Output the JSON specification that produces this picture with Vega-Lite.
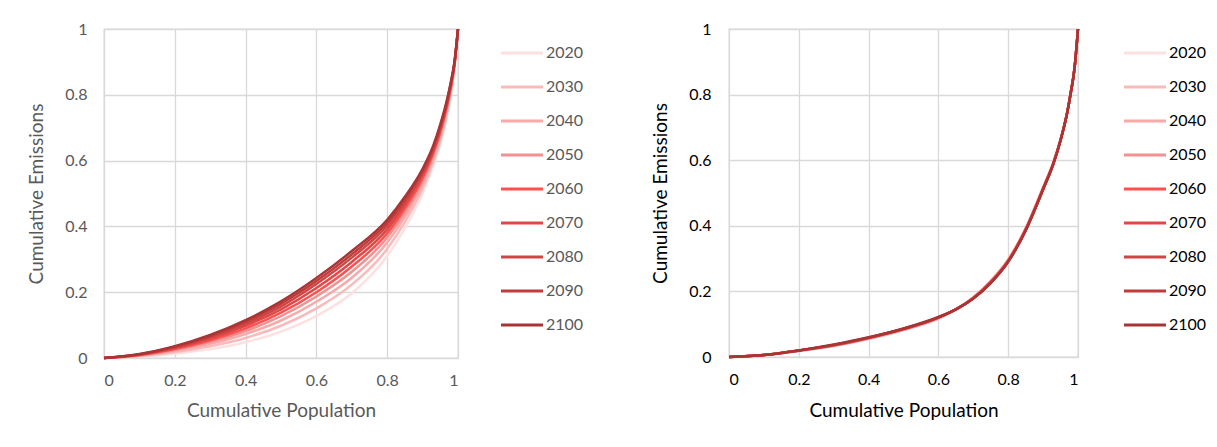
{
  "$schema": "https://vega.github.io/schema/vega-lite/v6.json",
  "background": "white",
  "padding": {"left": 27, "top": 20, "right": 0, "bottom": 0},
  "bounds": "flush",
  "spacing": 271,
  "resolve": {"scale": {"color": "independent"}, "legend": {"color": "independent"}},
  "config": {
    "font": "Lato",
    "view": {"stroke": "#d9d9d9", "strokeWidth": 1.3},
    "axis": {
      "grid": true,
      "gridColor": "#d9d9d9",
      "gridWidth": 1.3,
      "domain": false,
      "ticks": false,
      "labelFontSize": 16,
      "titleFontSize": 19,
      "titleFontWeight": "normal"
    },
    "legend": {
      "orient": "none",
      "title": null,
      "symbolType": "M-2,0H2",
      "symbolSize": 441,
      "symbolStrokeWidth": 3,
      "labelFontSize": 16,
      "rowPadding": 14,
      "labelOffset": 12,
      "padding": 0
    }
  },
  "datasets": {
    "left": [
      {"year": "2020", "p": 0, "e": 0}, {"year": "2020", "p": 0.1, "e": 0.004}, {"year": "2020", "p": 0.2, "e": 0.013}, {"year": "2020", "p": 0.3, "e": 0.027}, {"year": "2020", "p": 0.4, "e": 0.048}, {"year": "2020", "p": 0.5, "e": 0.08}, {"year": "2020", "p": 0.6, "e": 0.128}, {"year": "2020", "p": 0.7, "e": 0.197}, {"year": "2020", "p": 0.8, "e": 0.31}, {"year": "2020", "p": 0.85, "e": 0.395}, {"year": "2020", "p": 0.9, "e": 0.5}, {"year": "2020", "p": 0.93, "e": 0.585}, {"year": "2020", "p": 0.95, "e": 0.65}, {"year": "2020", "p": 0.97, "e": 0.74}, {"year": "2020", "p": 0.98, "e": 0.8}, {"year": "2020", "p": 0.99, "e": 0.88}, {"year": "2020", "p": 1, "e": 1},
      {"year": "2030", "p": 0, "e": 0}, {"year": "2030", "p": 0.1, "e": 0.006}, {"year": "2030", "p": 0.2, "e": 0.018}, {"year": "2030", "p": 0.3, "e": 0.036}, {"year": "2030", "p": 0.4, "e": 0.061}, {"year": "2030", "p": 0.5, "e": 0.098}, {"year": "2030", "p": 0.6, "e": 0.151}, {"year": "2030", "p": 0.7, "e": 0.223}, {"year": "2030", "p": 0.8, "e": 0.332}, {"year": "2030", "p": 0.85, "e": 0.414}, {"year": "2030", "p": 0.9, "e": 0.515}, {"year": "2030", "p": 0.93, "e": 0.597}, {"year": "2030", "p": 0.95, "e": 0.662}, {"year": "2030", "p": 0.97, "e": 0.75}, {"year": "2030", "p": 0.98, "e": 0.808}, {"year": "2030", "p": 0.99, "e": 0.884}, {"year": "2030", "p": 1, "e": 1},
      {"year": "2040", "p": 0, "e": 0}, {"year": "2040", "p": 0.1, "e": 0.007}, {"year": "2040", "p": 0.2, "e": 0.022}, {"year": "2040", "p": 0.3, "e": 0.043}, {"year": "2040", "p": 0.4, "e": 0.073}, {"year": "2040", "p": 0.5, "e": 0.114}, {"year": "2040", "p": 0.6, "e": 0.171}, {"year": "2040", "p": 0.7, "e": 0.244}, {"year": "2040", "p": 0.8, "e": 0.351}, {"year": "2040", "p": 0.85, "e": 0.43}, {"year": "2040", "p": 0.9, "e": 0.528}, {"year": "2040", "p": 0.93, "e": 0.607}, {"year": "2040", "p": 0.95, "e": 0.672}, {"year": "2040", "p": 0.97, "e": 0.759}, {"year": "2040", "p": 0.98, "e": 0.815}, {"year": "2040", "p": 0.99, "e": 0.887}, {"year": "2040", "p": 1, "e": 1},
      {"year": "2050", "p": 0, "e": 0}, {"year": "2050", "p": 0.1, "e": 0.008}, {"year": "2050", "p": 0.2, "e": 0.025}, {"year": "2050", "p": 0.3, "e": 0.049}, {"year": "2050", "p": 0.4, "e": 0.082}, {"year": "2050", "p": 0.5, "e": 0.127}, {"year": "2050", "p": 0.6, "e": 0.187}, {"year": "2050", "p": 0.7, "e": 0.262}, {"year": "2050", "p": 0.8, "e": 0.366}, {"year": "2050", "p": 0.85, "e": 0.443}, {"year": "2050", "p": 0.9, "e": 0.538}, {"year": "2050", "p": 0.93, "e": 0.616}, {"year": "2050", "p": 0.95, "e": 0.681}, {"year": "2050", "p": 0.97, "e": 0.766}, {"year": "2050", "p": 0.98, "e": 0.82}, {"year": "2050", "p": 0.99, "e": 0.89}, {"year": "2050", "p": 1, "e": 1},
      {"year": "2060", "p": 0, "e": 0}, {"year": "2060", "p": 0.1, "e": 0.009}, {"year": "2060", "p": 0.2, "e": 0.027}, {"year": "2060", "p": 0.3, "e": 0.054}, {"year": "2060", "p": 0.4, "e": 0.09}, {"year": "2060", "p": 0.5, "e": 0.138}, {"year": "2060", "p": 0.6, "e": 0.2}, {"year": "2060", "p": 0.7, "e": 0.278}, {"year": "2060", "p": 0.8, "e": 0.379}, {"year": "2060", "p": 0.85, "e": 0.455}, {"year": "2060", "p": 0.9, "e": 0.547}, {"year": "2060", "p": 0.93, "e": 0.623}, {"year": "2060", "p": 0.95, "e": 0.688}, {"year": "2060", "p": 0.97, "e": 0.772}, {"year": "2060", "p": 0.98, "e": 0.825}, {"year": "2060", "p": 0.99, "e": 0.893}, {"year": "2060", "p": 1, "e": 1},
      {"year": "2070", "p": 0, "e": 0}, {"year": "2070", "p": 0.1, "e": 0.01}, {"year": "2070", "p": 0.2, "e": 0.03}, {"year": "2070", "p": 0.3, "e": 0.059}, {"year": "2070", "p": 0.4, "e": 0.098}, {"year": "2070", "p": 0.5, "e": 0.148}, {"year": "2070", "p": 0.6, "e": 0.213}, {"year": "2070", "p": 0.7, "e": 0.292}, {"year": "2070", "p": 0.8, "e": 0.391}, {"year": "2070", "p": 0.85, "e": 0.465}, {"year": "2070", "p": 0.9, "e": 0.556}, {"year": "2070", "p": 0.93, "e": 0.629}, {"year": "2070", "p": 0.95, "e": 0.694}, {"year": "2070", "p": 0.97, "e": 0.777}, {"year": "2070", "p": 0.98, "e": 0.83}, {"year": "2070", "p": 0.99, "e": 0.895}, {"year": "2070", "p": 1, "e": 1},
      {"year": "2080", "p": 0, "e": 0}, {"year": "2080", "p": 0.1, "e": 0.011}, {"year": "2080", "p": 0.2, "e": 0.032}, {"year": "2080", "p": 0.3, "e": 0.063}, {"year": "2080", "p": 0.4, "e": 0.104}, {"year": "2080", "p": 0.5, "e": 0.157}, {"year": "2080", "p": 0.6, "e": 0.225}, {"year": "2080", "p": 0.7, "e": 0.305}, {"year": "2080", "p": 0.8, "e": 0.402}, {"year": "2080", "p": 0.85, "e": 0.474}, {"year": "2080", "p": 0.9, "e": 0.563}, {"year": "2080", "p": 0.93, "e": 0.635}, {"year": "2080", "p": 0.95, "e": 0.7}, {"year": "2080", "p": 0.97, "e": 0.782}, {"year": "2080", "p": 0.98, "e": 0.834}, {"year": "2080", "p": 0.99, "e": 0.897}, {"year": "2080", "p": 1, "e": 1},
      {"year": "2090", "p": 0, "e": 0}, {"year": "2090", "p": 0.1, "e": 0.011}, {"year": "2090", "p": 0.2, "e": 0.034}, {"year": "2090", "p": 0.3, "e": 0.067}, {"year": "2090", "p": 0.4, "e": 0.11}, {"year": "2090", "p": 0.5, "e": 0.165}, {"year": "2090", "p": 0.6, "e": 0.234}, {"year": "2090", "p": 0.7, "e": 0.315}, {"year": "2090", "p": 0.8, "e": 0.411}, {"year": "2090", "p": 0.85, "e": 0.482}, {"year": "2090", "p": 0.9, "e": 0.569}, {"year": "2090", "p": 0.93, "e": 0.64}, {"year": "2090", "p": 0.95, "e": 0.705}, {"year": "2090", "p": 0.97, "e": 0.786}, {"year": "2090", "p": 0.98, "e": 0.837}, {"year": "2090", "p": 0.99, "e": 0.898}, {"year": "2090", "p": 1, "e": 1},
      {"year": "2100", "p": 0, "e": 0}, {"year": "2100", "p": 0.1, "e": 0.012}, {"year": "2100", "p": 0.2, "e": 0.036}, {"year": "2100", "p": 0.3, "e": 0.07}, {"year": "2100", "p": 0.4, "e": 0.115}, {"year": "2100", "p": 0.5, "e": 0.172}, {"year": "2100", "p": 0.6, "e": 0.243}, {"year": "2100", "p": 0.7, "e": 0.325}, {"year": "2100", "p": 0.8, "e": 0.42}, {"year": "2100", "p": 0.85, "e": 0.49}, {"year": "2100", "p": 0.9, "e": 0.575}, {"year": "2100", "p": 0.93, "e": 0.645}, {"year": "2100", "p": 0.95, "e": 0.71}, {"year": "2100", "p": 0.97, "e": 0.79}, {"year": "2100", "p": 0.98, "e": 0.84}, {"year": "2100", "p": 0.99, "e": 0.9}, {"year": "2100", "p": 1, "e": 1}
    ],
    "right": [
      {"year": "2020", "p": 0, "e": 0}, {"year": "2020", "p": 0.1, "e": 0.006}, {"year": "2020", "p": 0.2, "e": 0.018}, {"year": "2020", "p": 0.3, "e": 0.033}, {"year": "2020", "p": 0.4, "e": 0.055}, {"year": "2020", "p": 0.5, "e": 0.082}, {"year": "2020", "p": 0.6, "e": 0.117}, {"year": "2020", "p": 0.65, "e": 0.145}, {"year": "2020", "p": 0.7, "e": 0.182}, {"year": "2020", "p": 0.75, "e": 0.233}, {"year": "2020", "p": 0.8, "e": 0.298}, {"year": "2020", "p": 0.85, "e": 0.393}, {"year": "2020", "p": 0.9, "e": 0.518}, {"year": "2020", "p": 0.93, "e": 0.596}, {"year": "2020", "p": 0.95, "e": 0.664}, {"year": "2020", "p": 0.97, "e": 0.75}, {"year": "2020", "p": 0.98, "e": 0.81}, {"year": "2020", "p": 0.99, "e": 0.88}, {"year": "2020", "p": 1, "e": 1},
      {"year": "2030", "p": 0, "e": 0}, {"year": "2030", "p": 0.1, "e": 0.006}, {"year": "2030", "p": 0.2, "e": 0.018}, {"year": "2030", "p": 0.3, "e": 0.034}, {"year": "2030", "p": 0.4, "e": 0.056}, {"year": "2030", "p": 0.5, "e": 0.083}, {"year": "2030", "p": 0.6, "e": 0.118}, {"year": "2030", "p": 0.65, "e": 0.145}, {"year": "2030", "p": 0.7, "e": 0.182}, {"year": "2030", "p": 0.75, "e": 0.232}, {"year": "2030", "p": 0.8, "e": 0.297}, {"year": "2030", "p": 0.85, "e": 0.392}, {"year": "2030", "p": 0.9, "e": 0.517}, {"year": "2030", "p": 0.93, "e": 0.595}, {"year": "2030", "p": 0.95, "e": 0.663}, {"year": "2030", "p": 0.97, "e": 0.75}, {"year": "2030", "p": 0.98, "e": 0.81}, {"year": "2030", "p": 0.99, "e": 0.88}, {"year": "2030", "p": 1, "e": 1},
      {"year": "2040", "p": 0, "e": 0}, {"year": "2040", "p": 0.1, "e": 0.006}, {"year": "2040", "p": 0.2, "e": 0.019}, {"year": "2040", "p": 0.3, "e": 0.034}, {"year": "2040", "p": 0.4, "e": 0.056}, {"year": "2040", "p": 0.5, "e": 0.083}, {"year": "2040", "p": 0.6, "e": 0.118}, {"year": "2040", "p": 0.65, "e": 0.145}, {"year": "2040", "p": 0.7, "e": 0.181}, {"year": "2040", "p": 0.75, "e": 0.231}, {"year": "2040", "p": 0.8, "e": 0.296}, {"year": "2040", "p": 0.85, "e": 0.391}, {"year": "2040", "p": 0.9, "e": 0.516}, {"year": "2040", "p": 0.93, "e": 0.594}, {"year": "2040", "p": 0.95, "e": 0.663}, {"year": "2040", "p": 0.97, "e": 0.75}, {"year": "2040", "p": 0.98, "e": 0.81}, {"year": "2040", "p": 0.99, "e": 0.88}, {"year": "2040", "p": 1, "e": 1},
      {"year": "2050", "p": 0, "e": 0}, {"year": "2050", "p": 0.1, "e": 0.006}, {"year": "2050", "p": 0.2, "e": 0.019}, {"year": "2050", "p": 0.3, "e": 0.035}, {"year": "2050", "p": 0.4, "e": 0.057}, {"year": "2050", "p": 0.5, "e": 0.084}, {"year": "2050", "p": 0.6, "e": 0.119}, {"year": "2050", "p": 0.65, "e": 0.145}, {"year": "2050", "p": 0.7, "e": 0.18}, {"year": "2050", "p": 0.75, "e": 0.23}, {"year": "2050", "p": 0.8, "e": 0.295}, {"year": "2050", "p": 0.85, "e": 0.39}, {"year": "2050", "p": 0.9, "e": 0.515}, {"year": "2050", "p": 0.93, "e": 0.594}, {"year": "2050", "p": 0.95, "e": 0.662}, {"year": "2050", "p": 0.97, "e": 0.75}, {"year": "2050", "p": 0.98, "e": 0.81}, {"year": "2050", "p": 0.99, "e": 0.88}, {"year": "2050", "p": 1, "e": 1},
      {"year": "2060", "p": 0, "e": 0}, {"year": "2060", "p": 0.1, "e": 0.006}, {"year": "2060", "p": 0.2, "e": 0.02}, {"year": "2060", "p": 0.3, "e": 0.036}, {"year": "2060", "p": 0.4, "e": 0.058}, {"year": "2060", "p": 0.5, "e": 0.085}, {"year": "2060", "p": 0.6, "e": 0.12}, {"year": "2060", "p": 0.65, "e": 0.145}, {"year": "2060", "p": 0.7, "e": 0.18}, {"year": "2060", "p": 0.75, "e": 0.229}, {"year": "2060", "p": 0.8, "e": 0.294}, {"year": "2060", "p": 0.85, "e": 0.389}, {"year": "2060", "p": 0.9, "e": 0.514}, {"year": "2060", "p": 0.93, "e": 0.593}, {"year": "2060", "p": 0.95, "e": 0.662}, {"year": "2060", "p": 0.97, "e": 0.75}, {"year": "2060", "p": 0.98, "e": 0.81}, {"year": "2060", "p": 0.99, "e": 0.88}, {"year": "2060", "p": 1, "e": 1},
      {"year": "2070", "p": 0, "e": 0}, {"year": "2070", "p": 0.1, "e": 0.006}, {"year": "2070", "p": 0.2, "e": 0.02}, {"year": "2070", "p": 0.3, "e": 0.036}, {"year": "2070", "p": 0.4, "e": 0.058}, {"year": "2070", "p": 0.5, "e": 0.085}, {"year": "2070", "p": 0.6, "e": 0.12}, {"year": "2070", "p": 0.65, "e": 0.145}, {"year": "2070", "p": 0.7, "e": 0.179}, {"year": "2070", "p": 0.75, "e": 0.228}, {"year": "2070", "p": 0.8, "e": 0.293}, {"year": "2070", "p": 0.85, "e": 0.388}, {"year": "2070", "p": 0.9, "e": 0.513}, {"year": "2070", "p": 0.93, "e": 0.592}, {"year": "2070", "p": 0.95, "e": 0.661}, {"year": "2070", "p": 0.97, "e": 0.75}, {"year": "2070", "p": 0.98, "e": 0.81}, {"year": "2070", "p": 0.99, "e": 0.88}, {"year": "2070", "p": 1, "e": 1},
      {"year": "2080", "p": 0, "e": 0}, {"year": "2080", "p": 0.1, "e": 0.006}, {"year": "2080", "p": 0.2, "e": 0.02}, {"year": "2080", "p": 0.3, "e": 0.037}, {"year": "2080", "p": 0.4, "e": 0.059}, {"year": "2080", "p": 0.5, "e": 0.086}, {"year": "2080", "p": 0.6, "e": 0.121}, {"year": "2080", "p": 0.65, "e": 0.145}, {"year": "2080", "p": 0.7, "e": 0.179}, {"year": "2080", "p": 0.75, "e": 0.227}, {"year": "2080", "p": 0.8, "e": 0.292}, {"year": "2080", "p": 0.85, "e": 0.387}, {"year": "2080", "p": 0.9, "e": 0.512}, {"year": "2080", "p": 0.93, "e": 0.591}, {"year": "2080", "p": 0.95, "e": 0.661}, {"year": "2080", "p": 0.97, "e": 0.75}, {"year": "2080", "p": 0.98, "e": 0.81}, {"year": "2080", "p": 0.99, "e": 0.88}, {"year": "2080", "p": 1, "e": 1},
      {"year": "2090", "p": 0, "e": 0}, {"year": "2090", "p": 0.1, "e": 0.006}, {"year": "2090", "p": 0.2, "e": 0.02}, {"year": "2090", "p": 0.3, "e": 0.037}, {"year": "2090", "p": 0.4, "e": 0.059}, {"year": "2090", "p": 0.5, "e": 0.086}, {"year": "2090", "p": 0.6, "e": 0.121}, {"year": "2090", "p": 0.65, "e": 0.145}, {"year": "2090", "p": 0.7, "e": 0.178}, {"year": "2090", "p": 0.75, "e": 0.226}, {"year": "2090", "p": 0.8, "e": 0.291}, {"year": "2090", "p": 0.85, "e": 0.386}, {"year": "2090", "p": 0.9, "e": 0.511}, {"year": "2090", "p": 0.93, "e": 0.591}, {"year": "2090", "p": 0.95, "e": 0.66}, {"year": "2090", "p": 0.97, "e": 0.75}, {"year": "2090", "p": 0.98, "e": 0.81}, {"year": "2090", "p": 0.99, "e": 0.88}, {"year": "2090", "p": 1, "e": 1},
      {"year": "2100", "p": 0, "e": 0}, {"year": "2100", "p": 0.1, "e": 0.006}, {"year": "2100", "p": 0.2, "e": 0.02}, {"year": "2100", "p": 0.3, "e": 0.038}, {"year": "2100", "p": 0.4, "e": 0.06}, {"year": "2100", "p": 0.5, "e": 0.087}, {"year": "2100", "p": 0.6, "e": 0.122}, {"year": "2100", "p": 0.65, "e": 0.145}, {"year": "2100", "p": 0.7, "e": 0.178}, {"year": "2100", "p": 0.75, "e": 0.225}, {"year": "2100", "p": 0.8, "e": 0.29}, {"year": "2100", "p": 0.85, "e": 0.385}, {"year": "2100", "p": 0.9, "e": 0.51}, {"year": "2100", "p": 0.93, "e": 0.59}, {"year": "2100", "p": 0.95, "e": 0.66}, {"year": "2100", "p": 0.97, "e": 0.75}, {"year": "2100", "p": 0.98, "e": 0.81}, {"year": "2100", "p": 0.99, "e": 0.88}, {"year": "2100", "p": 1, "e": 1}
    ]
  },
  "hconcat": [
    {
      "width": 354,
      "height": 329,
      "data": {"name": "left"},
      "mark": {"type": "line", "strokeWidth": 2.5, "interpolate": "monotone"},
      "encoding": {
        "x": {
          "field": "p",
          "type": "quantitative",
          "scale": {"domain": [0, 1]},
          "axis": {"title": "Cumulative Population", "values": [0, 0.2, 0.4, 0.6, 0.8, 1], "format": "~g", "labelColor": "#595959", "titleColor": "#595959", "labelPadding": 14, "titlePadding": 13}
        },
        "y": {
          "field": "e",
          "type": "quantitative",
          "scale": {"domain": [0, 1]},
          "axis": {"title": "Cumulative Emissions", "values": [0, 0.2, 0.4, 0.6, 0.8, 1], "format": "~g", "labelColor": "#595959", "titleColor": "#595959", "labelPadding": 17, "titlePadding": 18}
        },
        "color": {
          "field": "year",
          "type": "nominal",
          "scale": {
            "domain": ["2020", "2030", "2040", "2050", "2060", "2070", "2080", "2090", "2100"],
            "range": ["#fde0e0", "#fbb9b9", "#f8a9a9", "#f29191", "#ff4f4f", "#e04848", "#d04545", "#c03b3b", "#a83535"]
          },
          "legend": {"legendX": 406, "legendY": 12, "labelColor": "#595959"}
        }
      }
    },
    {
      "width": 349,
      "height": 328,
      "data": {"name": "right"},
      "mark": {"type": "line", "strokeWidth": 2.5, "interpolate": "monotone"},
      "encoding": {
        "x": {
          "field": "p",
          "type": "quantitative",
          "scale": {"domain": [0, 1]},
          "axis": {"title": "Cumulative Population", "values": [0, 0.2, 0.4, 0.6, 0.8, 1], "format": "~g", "labelColor": "#000000", "titleColor": "#000000", "labelPadding": 14, "titlePadding": 14}
        },
        "y": {
          "field": "e",
          "type": "quantitative",
          "scale": {"domain": [0, 1]},
          "axis": {"title": "Cumulative Emissions", "values": [0, 0.2, 0.4, 0.6, 0.8, 1], "format": "~g", "labelColor": "#000000", "titleColor": "#000000", "labelPadding": 18, "titlePadding": 18}
        },
        "color": {
          "field": "year",
          "type": "nominal",
          "scale": {
            "domain": ["2020", "2030", "2040", "2050", "2060", "2070", "2080", "2090", "2100"],
            "range": ["#fde0e0", "#fbb9b9", "#f8a9a9", "#f29191", "#ff4f4f", "#e04848", "#d04545", "#c03b3b", "#a83535"]
          },
          "legend": {"legendX": 404, "legendY": 12, "labelColor": "#000000"}
        }
      }
    }
  ]
}
